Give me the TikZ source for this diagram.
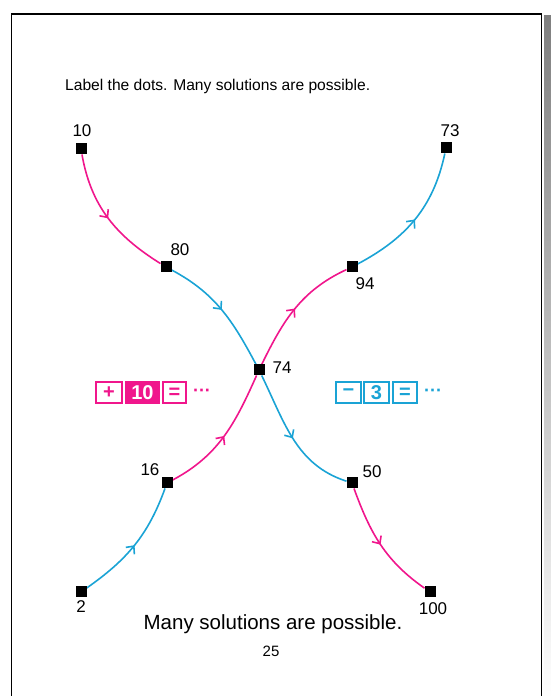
\documentclass[tikz,border=0pt]{standalone}
\usepackage{fontspec}
\setmainfont{Liberation Sans}
\usetikzlibrary{arrows.meta,decorations.markings}
\definecolor{pk}{HTML}{F0168C}
\definecolor{cy}{HTML}{1AA3D5}
\definecolor{shade}{HTML}{444444}
\tikzset{
  dot/.style={fill=black,minimum size=11pt,inner sep=0pt,outer sep=0pt},
  lbl/.style={font=\fontsize{17}{17}\selectfont,inner sep=0pt},
  seg/.style={line width=1.6pt,postaction={decorate},
    decoration={markings,mark=at position 0.5 with {\arrow{Straight Barb[length=6pt,width=11pt,line width=1.6pt]}}}},
  opbox/.style={draw=#1,line width=2pt,minimum height=21pt,inner sep=0pt,
    font=\bfseries\fontsize{20}{20}\selectfont,text=#1},
  fillbox/.style={draw=#1,fill=#1,line width=2pt,minimum height=21pt,inner sep=0pt,
    font=\bfseries\fontsize{20}{20}\selectfont,text=white},
  more/.style={font=\bfseries\fontsize{18}{18}\selectfont,text=#1,inner sep=0pt},
}
\begin{document}
\begin{tikzpicture}[x=1pt,y=1pt]
\useasboundingbox (0,0) rectangle (551,696);
% page frame and shadow
\fill[shade] (544,-2) rectangle (551,680);
\draw[line width=1.6pt,black] (11.5,-2) -- (11.5,682) -- (541.5,682) -- (541.5,-2);

% texts
\node[anchor=base west,inner sep=0pt,font=\fontsize{15.6}{16}\selectfont] (title) at (65,605) {Label the dots. Many solutions are possible.};
\node[anchor=base,inner sep=0pt,font=\fontsize{20.5}{21}\selectfont] (note) at (273,66) {Many solutions are possible.};
\node[anchor=base,inner sep=0pt,font=\fontsize{15}{15}\selectfont] (page) at (271,39) {25};

% dots
\node[dot] (n10) at (81,547) {};
\node[dot] (n80) at (166,429) {};
\node[dot] (n74) at (259,326) {};
\node[dot] (n94) at (352,429) {};
\node[dot] (n73) at (446,548) {};
\node[dot] (n16) at (167,213) {};
\node[dot] (n50) at (352,213) {};
\node[dot] (n2) at (81,104) {};
\node[dot] (n100) at (430,104) {};

% curves
\draw[seg,pk] (n10) to[out=-80,in=148] (n80);
\draw[seg,cy] (n80) to[out=-28,in=118] (n74);
\draw[seg,cy] (n74) to[out=-64,in=162] (n50);
\draw[seg,pk] (n50) to[out=-70,in=145] (n100);
\draw[seg,cy] (n2) to[out=35,in=-110] (n16);
\draw[seg,pk] (n16) to[out=28,in=-114] (n74);
\draw[seg,pk] (n74) to[out=64,in=-155] (n94);
\draw[seg,cy] (n94) to[out=28,in=-102] (n73);

% redraw dots on top
\foreach \n in {n10,n80,n74,n94,n73,n16,n50,n2,n100}{\fill[black] (\n.south west) rectangle (\n.north east);}

% labels
\node[lbl] (l10) at (82,565) {10};
\node[lbl] (l80) at (180,446) {80};
\node[lbl] (l73) at (450,565) {73};
\node[lbl] (l94) at (365,412) {94};
\node[lbl] (l74) at (282,328) {74};
\node[lbl] (l16) at (150,226) {16};
\node[lbl] (l50) at (372,224) {50};
\node[lbl] (l2) at (81,89) {2};
\node[lbl] (l100) at (433,87) {100};

% operator boxes, left (pink)
\node[opbox=pk,minimum width=26pt] (pplus) at (109,303) {+};
\node[fillbox=pk,minimum width=33pt] (pten) at (142.5,303) {10};
\node[opbox=pk,minimum width=23pt] (peq) at (174.5,303) {=};
\node[more=pk] (pdots) at (202,303) {···};

% operator boxes, right (cyan)
\node[opbox=cy,minimum width=25pt] (cminus) at (348.5,303) {−};
\node[opbox=cy,minimum width=25pt] (cthree) at (376.5,303) {3};
\node[opbox=cy,minimum width=24pt] (ceq) at (405,303) {=};
\node[more=cy] (cdots) at (433,303) {···};
\end{tikzpicture}
\end{document}
